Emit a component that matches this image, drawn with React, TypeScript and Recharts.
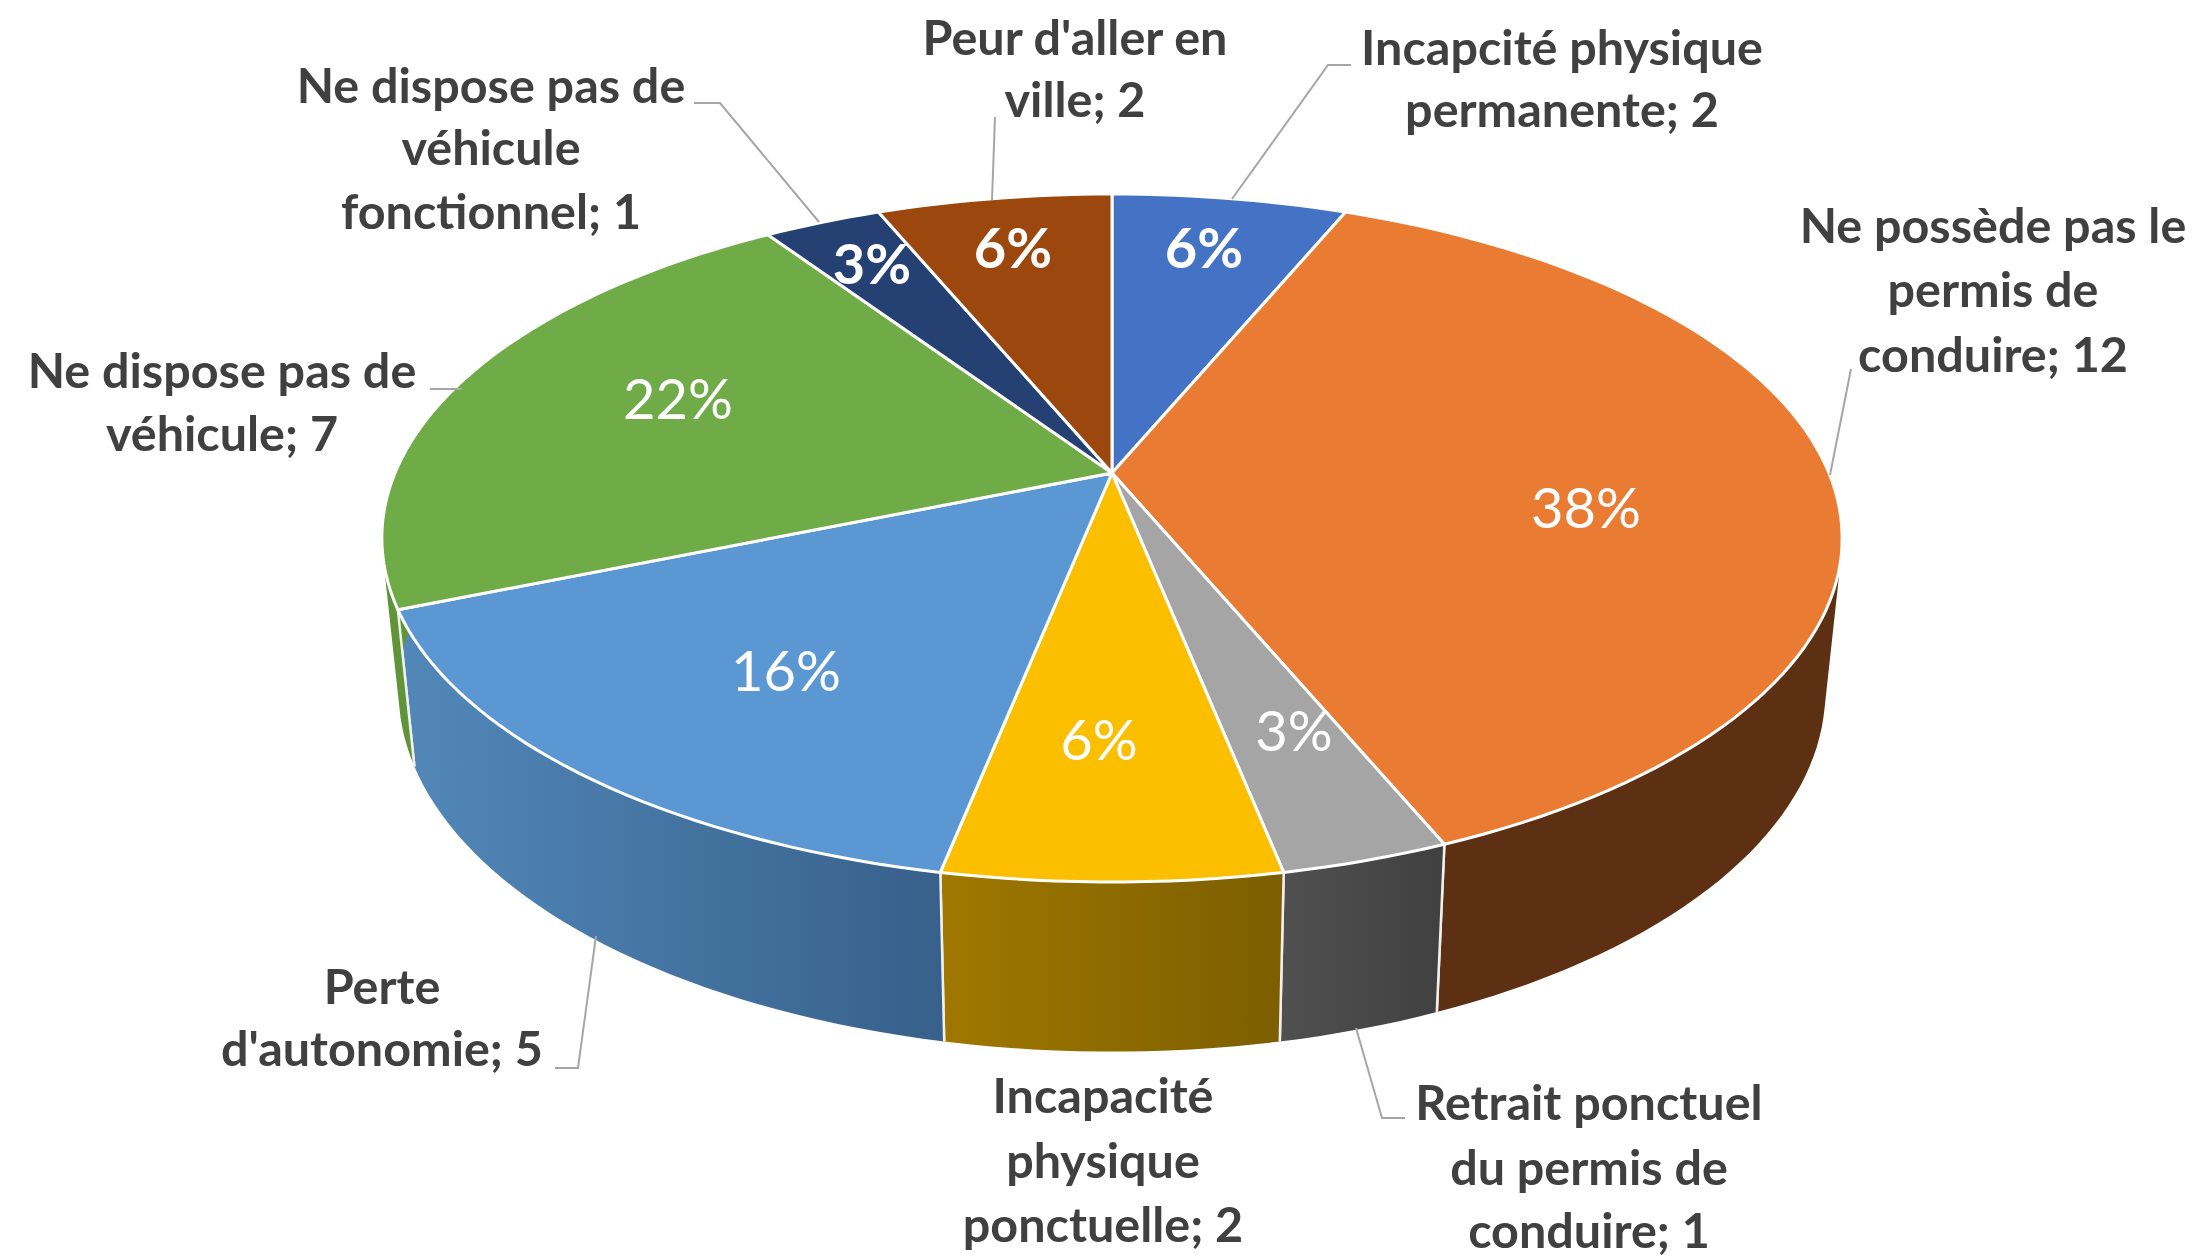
import React from "react";
import { PieChart, Pie } from "recharts";

const categories = [
  "Incapcité physique\npermanente",
  "Ne possède pas le\npermis de\nconduire",
  "Retrait ponctuel\ndu permis de\nconduire",
  "Incapacité\nphysique\nponctuelle",
  "Perte\nd'autonomie",
  "Ne dispose pas de\nvéhicule",
  "Ne dispose pas de\nvéhicule\nfonctionnel",
  "Peur d'aller en\nville",
];
const values = [2, 12, 1, 2, 5, 7, 1, 2];
const topColors = ["#4472C4", "#EA7B33", "#A5A5A5", "#FBBF00", "#5B98D3", "#6FAB47", "#254072", "#9B470D"];
const wallFrom = ["#2F5597", "#5E3013", "#505050", "#A07800", "#5288B9", "#5F9438", "#1A2F55", "#6E3209"];
const wallTo = ["#2F5597", "#5E3013", "#404040", "#7C5E00", "#37608A", "#5F9438", "#1A2F55", "#6E3209"];

const data = categories.map((name, i) => ({ name, value: values[i], fill: topColors[i] }));

// Layout (page pixels): chart size, perspective of the disc, labels.
const W = 2201;
const H = 1258;
const CX = 1112;
const CY = 473;
const K_X = 717;
const K_Y = 331.7;
const PERSP = 0.189;
const FLOOR_SX = 0.977;
const FLOOR_SY = 1.048;
const FLOOR_DY = 150;

const outerPos = [
  { x: 1562, y: [46, 108] },
  { x: 1993, y: [224, 288, 353] },
  { x: 1589, y: [1101, 1166, 1229] },
  { x: 1103, y: [1094, 1159, 1223] },
  { x: 382, y: [985, 1047] },
  { x: 222, y: [369, 432] },
  { x: 491, y: [84, 146, 210] },
  { x: 1075, y: [36, 98] },
];
const pctPos = [
  [1204, 246], [1586, 506], [1294, 729], [1099, 738], [786, 669], [678, 397], [872, 262], [1013, 246],
];
const pctBold = [true, false, false, false, false, false, true, true];
const leaders = [
  "1351,65 1328,65 1232,199",
  "1851,369 1830,475",
  "1405,1118 1382,1118 1356,1028",
  "",
  "555,1068 578,1068 596,936",
  "430,389 462,389",
  "694,103 720,103 819,222",
  "995,117 992,200",
];

type P = [number, number];

function top(deg: number): P {
  const t = (deg * Math.PI) / 180;
  const u = Math.cos(t);
  const v = -Math.sin(t);
  const d = 1 - PERSP * v;
  return [CX + (K_X * u) / d, CY + (K_Y * v) / d];
}
function floor(deg: number): P {
  const [x, y] = top(deg);
  return [CX + FLOOR_SX * (x - CX), CY + FLOOR_DY + FLOOR_SY * (y - CY)];
}
function arc(a: number, b: number, fn: (d: number) => P): P[] {
  const n = Math.max(2, Math.ceil(Math.abs(a - b) / 1.5));
  const pts: P[] = [];
  for (let i = 0; i <= n; i++) pts.push(fn(a + ((b - a) * i) / n));
  return pts;
}
const fmt = (p: P) => `${p[0].toFixed(1)},${p[1].toFixed(1)}`;

function TopShape(p: any) {
  const pts = arc(p.startAngle, p.endAngle, top);
  return (
    <path
      d={`M${CX},${CY} L${pts.map(fmt).join(" L")} Z`}
      fill={p.fill}
      stroke="#FFFFFF"
      strokeWidth={3}
      strokeLinejoin="round"
    />
  );
}

// The wall is swept from rim to floor as quads of one winding, so that the
// straight silhouette of the cylinder is filled as well.
function WallShape(p: any) {
  const a = arc(p.startAngle, p.endAngle, top);
  const b = arc(p.startAngle, p.endAngle, floor);
  const i = categories.indexOf(p.name);
  const id = `wall-${i}`;
  let d = "";
  let minX = Infinity;
  let maxX = -Infinity;
  for (let k = 0; k < a.length - 1; k++) {
    const q: P[] = [a[k], a[k + 1], b[k + 1], b[k]];
    let area = 0;
    q.forEach((s, j) => {
      const e = q[(j + 1) % 4];
      area += s[0] * e[1] - e[0] * s[1];
      minX = Math.min(minX, s[0]);
      maxX = Math.max(maxX, s[0]);
    });
    const o = area < 0 ? [...q].reverse() : q;
    d += `M${o.map(fmt).join(" L")} Z `;
  }
  const last = a.length - 1;
  const edges = `M${fmt(a[0])} L${fmt(b[0])} M${fmt(a[last])} L${fmt(b[last])}`;
  return (
    <g>
      <defs>
        <linearGradient id={id} gradientUnits="userSpaceOnUse" x1={minX} y1="0" x2={maxX} y2="0">
          <stop offset="0" stopColor={wallFrom[i]} />
          <stop offset="1" stopColor={wallTo[i]} />
        </linearGradient>
      </defs>
      <path d={d} fill={`url(#${id})`} stroke="none" fillRule="nonzero" />
      <path d={edges} fill="none" stroke="#EFEFEF" strokeWidth={2.5} />
    </g>
  );
}

function SliceLabels(p: any) {
  const i = p.index;
  const lines = `${categories[i]}; ${values[i]}`.split("\n");
  const pos = outerPos[i];
  const total = values.reduce((s, v) => s + v, 0);
  return (
    <g>
      {leaders[i] ? <polyline points={leaders[i]} fill="none" stroke="#A6A6A6" strokeWidth={2} /> : null}
      <text fontFamily="Lato" fontWeight={700} fontSize={48.5} fill="#404040" textAnchor="middle">
        {lines.map((l, j) => (
          <tspan key={j} x={pos.x} y={pos.y[j]} dominantBaseline="central">
            {l}
          </tspan>
        ))}
      </text>
      <text
        x={pctPos[i][0]}
        y={pctPos[i][1]}
        fontFamily="Lato"
        fontWeight={pctBold[i] ? 700 : 400}
        fontSize={56}
        fill="#FFFFFF"
        textAnchor="middle"
        dominantBaseline="central"
      >
        {`${Math.round((values[i] / total) * 100)}%`}
      </text>
    </g>
  );
}

export default function App() {
  return (
    <div style={{ position: "absolute", left: 0, top: 0, width: W, height: H, background: "#fff" }}>
      <PieChart width={W} height={H} margin={{ top: 0, right: 0, bottom: 0, left: 0 }}>
        <Pie
          data={data}
          dataKey="value"
          nameKey="name"
          cx={CX}
          cy={CY}
          outerRadius={300}
          startAngle={90}
          endAngle={-270}
          isAnimationActive={false}
          shape={WallShape}
          inactiveShape={WallShape}
          activeShape={WallShape}
          label={false}
          labelLine={false}
        />
        <Pie
          data={data}
          dataKey="value"
          nameKey="name"
          cx={CX}
          cy={CY}
          outerRadius={300}
          startAngle={90}
          endAngle={-270}
          isAnimationActive={false}
          shape={TopShape}
          inactiveShape={TopShape}
          activeShape={TopShape}
          label={SliceLabels}
          labelLine={false}
        />
      </PieChart>
    </div>
  );
}
